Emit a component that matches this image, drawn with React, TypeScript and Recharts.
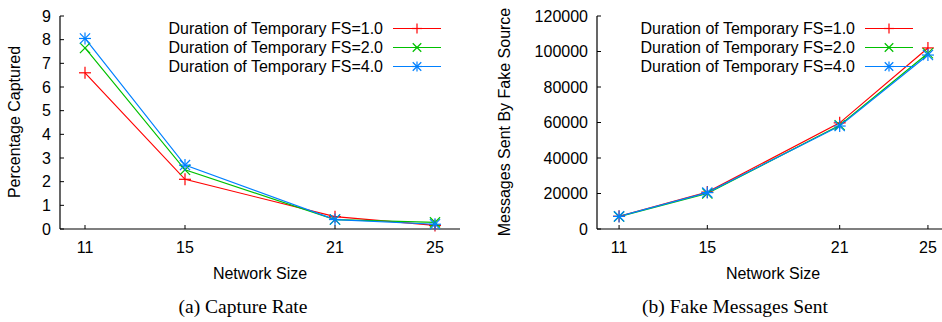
import React from "react";
import { LineChart, Line, XAxis, YAxis, Legend } from "recharts";

const networkSizes = [11, 15, 21, 25];
const xTicks = [11, 15, 21, 25];

// (a) capture rate, percent
const capture1 = [6.6, 2.1, 0.52, 0.15];
const capture2 = [7.65, 2.5, 0.4, 0.28];
const capture4 = [8.05, 2.7, 0.4, 0.2];

// (b) messages sent by fake source
const sent1 = [7200, 20800, 59800, 102000];
const sent2 = [7000, 20000, 58500, 99000];
const sent4 = [7100, 20500, 58000, 98000];

const captureTicks = [0, 1, 2, 3, 4, 5, 6, 7, 8, 9];
const sentTicks = [0, 20000, 40000, 60000, 80000, 100000, 120000];

const seriesNames = [
  "Duration of Temporary FS=1.0",
  "Duration of Temporary FS=2.0",
  "Duration of Temporary FS=4.0",
];
const colors = ["#ff0000", "#00c000", "#0080ff"];
const shapes = ["plus", "cross", "star"];

const FONT = '"Liberation Sans", Arial, Helvetica, sans-serif';

const captureData = networkSizes.map((n, i) => ({
  n,
  s1: capture1[i],
  s2: capture2[i],
  s4: capture4[i],
}));

const sentData = networkSizes.map((n, i) => ({
  n,
  s1: sent1[i],
  s2: sent2[i],
  s4: sent4[i],
}));

function Marker({ cx, cy, shape, color, r = 6 }: any) {
  const plus = (
    <>
      <line x1={cx - r} y1={cy} x2={cx + r} y2={cy} stroke={color} strokeWidth={1.2} />
      <line x1={cx} y1={cy - r} x2={cx} y2={cy + r} stroke={color} strokeWidth={1.2} />
    </>
  );
  const d = r * 0.85;
  const cross = (
    <>
      <line x1={cx - d} y1={cy - d} x2={cx + d} y2={cy + d} stroke={color} strokeWidth={1.2} />
      <line x1={cx - d} y1={cy + d} x2={cx + d} y2={cy - d} stroke={color} strokeWidth={1.2} />
    </>
  );
  return (
    <g>
      {shape !== "cross" && plus}
      {shape !== "plus" && cross}
    </g>
  );
}

const makeDot = (shape: string, color: string) => (props: any) => {
  const { cx, cy, index } = props;
  if (cx == null || cy == null) return <g key={index} />;
  return <Marker key={index} cx={cx} cy={cy} shape={shape} color={color} />;
};

function LegendBox() {
  return (
    <div style={{ fontFamily: FONT, fontSize: 16, color: "#000" }}>
      {seriesNames.map((name, i) => (
        <div
          key={name}
          style={{ display: "flex", alignItems: "center", height: 19, justifyContent: "flex-end" }}
        >
          <span style={{ whiteSpace: "nowrap", lineHeight: "19px" }}>{name}</span>
          <svg width={48} height={19} style={{ marginLeft: 10, display: "block" }}>
            <line x1={0} y1={9.5} x2={48} y2={9.5} stroke={colors[i]} strokeWidth={1.2} />
            <Marker cx={24} cy={9.5} shape={shapes[i]} color={colors[i]} r={5} />
          </svg>
        </div>
      ))}
    </div>
  );
}

const tickStyle = { fontSize: 16, fill: "#000", fontFamily: FONT };

function Panel({
  data,
  width,
  yWidth,
  yTicks,
  yMax,
  legendRight,
}: {
  data: any[];
  width: number;
  yWidth: number;
  yTicks: number[];
  yMax: number;
  legendRight: number;
}) {
  const keys = ["s1", "s2", "s4"];
  return (
    <LineChart width={width} height={322} data={data} margin={{ top: 16, right: 10, left: 0, bottom: 63 }}>
      <XAxis
        dataKey="n"
        type="number"
        domain={[10, 26]}
        ticks={xTicks}
        allowDataOverflow
        height={30}
        tickSize={-4}
        tickMargin={17}
        tick={tickStyle}
        axisLine={{ stroke: "#000", strokeWidth: 1.2 }}
        tickLine={{ stroke: "#000" }}
      />
      <XAxis
        xAxisId="top"
        orientation="top"
        dataKey="n"
        type="number"
        domain={[10, 26]}
        ticks={xTicks}
        allowDataOverflow
        height={0}
        tickSize={-4}
        tick={false}
        axisLine={{ stroke: "#000", strokeWidth: 1.2 }}
        tickLine={{ stroke: "#000" }}
      />
      <YAxis
        type="number"
        domain={[0, yMax]}
        ticks={yTicks}
        width={yWidth}
        tickSize={-4}
        tickMargin={13}
        tick={tickStyle}
        axisLine={{ stroke: "#000", strokeWidth: 1.2 }}
        tickLine={{ stroke: "#000" }}
      />
      <YAxis
        yAxisId="right"
        orientation="right"
        type="number"
        domain={[0, yMax]}
        ticks={yTicks}
        width={0}
        tickSize={-4}
        tick={false}
        axisLine={{ stroke: "#000", strokeWidth: 1.2 }}
        tickLine={{ stroke: "#000" }}
      />
      <Legend
        layout="vertical"
        align="center"
        verticalAlign="middle"
        content={() => <LegendBox />}
        wrapperStyle={{ top: 19, right: legendRight, left: "auto", width: "auto", height: "auto" }}
      />
      {keys.map((k, i) => (
        <Line
          key={k}
          dataKey={k}
          name={seriesNames[i]}
          type="linear"
          stroke={colors[i]}
          strokeWidth={1.2}
          dot={makeDot(shapes[i], colors[i])}
          activeDot={false}
          isAnimationActive={false}
        />
      ))}
    </LineChart>
  );
}

const abs = (style: React.CSSProperties): React.CSSProperties => ({ position: "absolute", ...style });

export default function App() {
  return (
    <div style={abs({ left: 0, top: 0, width: 942, height: 322, overflow: "hidden", background: "#fff" })}>
      <div style={abs({ left: 0, top: 0 })}>
        <Panel data={captureData} width={470} yWidth={60} yTicks={captureTicks} yMax={9} legendRight={29} />
      </div>
      <div style={abs({ left: 470, top: 0 })}>
        <Panel data={sentData} width={490} yWidth={127} yTicks={sentTicks} yMax={120000} legendRight={47} />
      </div>

      {/* axis titles */}
      <div
        style={abs({
          left: 15,
          top: 122,
          transform: "translate(-50%, -50%) rotate(-90deg)",
          fontFamily: FONT,
          fontSize: 16,
          whiteSpace: "nowrap",
        })}
      >
        Percentage Captured
      </div>
      <div
        style={abs({
          left: 505,
          top: 122,
          transform: "translate(-50%, -50%) rotate(-90deg)",
          fontFamily: FONT,
          fontSize: 16,
          whiteSpace: "nowrap",
        })}
      >
        Messages Sent By Fake Source
      </div>
      <div style={abs({ left: 260, top: 274, transform: "translate(-50%, -50%)", fontFamily: FONT, fontSize: 16, whiteSpace: "nowrap" })}>
        Network Size
      </div>
      <div style={abs({ left: 773, top: 274, transform: "translate(-50%, -50%)", fontFamily: FONT, fontSize: 16, whiteSpace: "nowrap" })}>
        Network Size
      </div>

      {/* captions */}
      <div
        style={abs({
          left: 243,
          top: 307,
          transform: "translate(-50%, -50%)",
          fontFamily: '"Liberation Serif", "Times New Roman", serif',
          fontSize: 19.5,
          whiteSpace: "nowrap",
        })}
      >
        (a) Capture Rate
      </div>
      <div
        style={abs({
          left: 735,
          top: 307,
          transform: "translate(-50%, -50%)",
          fontFamily: '"Liberation Serif", "Times New Roman", serif',
          fontSize: 19.5,
          whiteSpace: "nowrap",
        })}
      >
        (b) Fake Messages Sent
      </div>
    </div>
  );
}
